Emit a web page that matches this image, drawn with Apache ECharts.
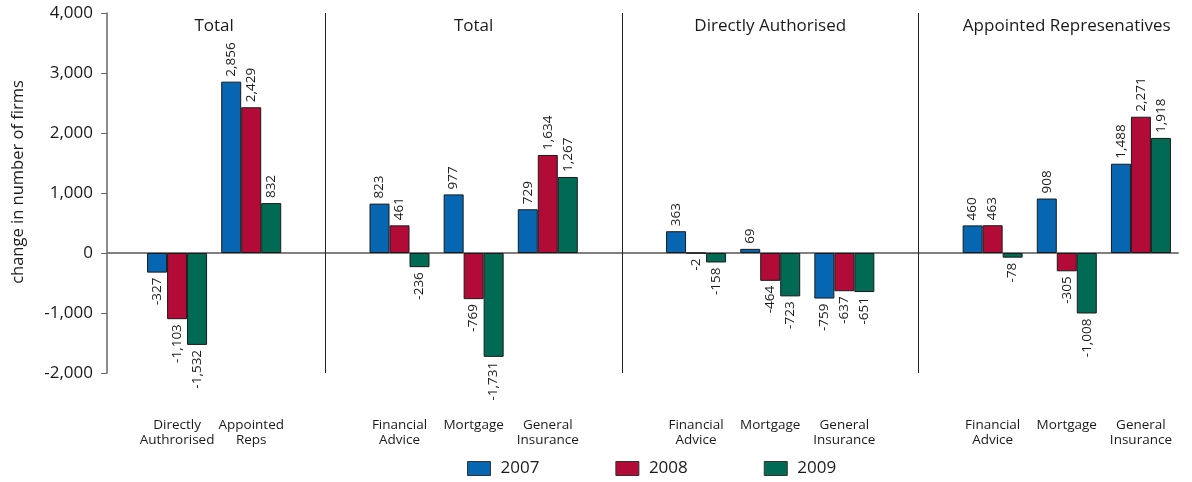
<!DOCTYPE html>
<html>
<head>
<meta charset="utf-8">
<script src="https://cdn.jsdelivr.net/npm/echarts@6/dist/echarts.min.js"></script>
<style>
  * { margin: 0; padding: 0; }
  #mychart { width: 1192px; height: 482px; background: #fff; }
</style>
</head>
<body>
<div id="mychart"></div>
<script>
// blank categories are the gaps between the four panels
const catName = ['Directly\nAuthrorised', 'Appointed\nReps', '',
  'Financial\nAdvice', 'Mortgage', 'General\nInsurance', '',
  'Financial\nAdvice', 'Mortgage', 'General\nInsurance', '',
  'Financial\nAdvice', 'Mortgage', 'General\nInsurance'];
const val2007 = [-327, 2856, null, 823, 977, 729, null, 363, 69, -759, null, 460, 908, 1488];
const val2008 = [-1103, 2429, null, 461, -769, 1634, null, -2, -464, -637, null, 463, -305, 2271];
const val2009 = [-1532, 832, null, -236, -1731, 1267, null, -158, -723, -651, null, -78, -1008, 1918];
const yearNames = ['2007', '2008', '2009'];
const panelTitles = ['Total', 'Total', 'Directly Authorised', 'Appointed Represenatives'];
const gapIndex = [2, 6, 10];
const yTicks = [-2000, 4000, 1000]; // min, max, step

const colors = ['#0766b1', '#b20b37', '#006a55'];
const font = 'Open Sans';
const fmt = v => Number(v).toLocaleString('en-US');

function barData(arr) {
  return arr.map(v => {
    if (v === null) return '-';
    const neg = v < 0;
    return {
      value: v,
      label: { position: neg ? 'bottom' : 'top', align: neg ? 'right' : 'left' }
    };
  });
}

function makeSeries(name, arr, i) {
  const s = {
    name: name,
    type: 'bar',
    barWidth: 20,
    barGap: '0%',
    data: barData(arr),
    itemStyle: { color: colors[i], borderColor: '#1a1a1a', borderWidth: 1 },
    label: {
      show: true,
      rotate: 90,
      verticalAlign: 'middle',
      distance: 5,
      fontFamily: font,
      fontSize: 13.5,
      color: '#1a1a1a',
      formatter: p => fmt(p.value)
    },
    emphasis: { disabled: true }
  };
  // middle bar sits on the category centre, so the panel separators go on it
  if (i === 1) {
    s.markLine = {
      silent: true,
      symbol: 'none',
      label: { show: false },
      lineStyle: { color: '#222', width: 1, type: 'solid' },
      data: gapIndex.map(g => ({ xAxis: g }))
    };
  }
  return s;
}

var chart = echarts.init(document.getElementById('mychart'));
const option = {
  animation: false,
  textStyle: { fontFamily: font },
  grid: { left: 140, right: 14, top: 13, bottom: 109 },
  legend: {
    data: yearNames,
    icon: 'rect',
    left: 467,
    top: 460,
    padding: 0,
    itemWidth: 23,
    itemHeight: 14,
    itemGap: 76,
    itemStyle: { borderColor: '#333', borderWidth: 1 },
    textStyle: { fontFamily: font, fontSize: 17, color: '#1a1a1a', padding: [0, 0, 0, 5] }
  },
  xAxis: [
    {
      type: 'category',
      data: catName,
      axisLine: { onZero: true, lineStyle: { color: '#808080', width: 2 } },
      axisTick: { inside: true, length: 6, lineStyle: { color: '#555' } },
      axisLabel: { show: false }
    },
    {
      type: 'category',
      data: catName,
      position: 'bottom',
      axisLine: { show: false, onZero: false },
      axisTick: { show: false },
      axisLabel: {
        interval: 0,
        margin: 45,
        fontFamily: font,
        fontSize: 13.5,
        lineHeight: 15,
        color: '#1a1a1a'
      }
    }
  ],
  yAxis: {
    type: 'value',
    min: yTicks[0],
    max: yTicks[1],
    interval: yTicks[2],
    offset: 33,
    name: 'change in number of firms',
    nameLocation: 'middle',
    nameGap: 80,
    nameTextStyle: { fontFamily: font, fontSize: 16.5, color: '#1a1a1a', padding: [0, 0, 0, 22] },
    splitLine: { show: false },
    axisLine: { show: true, lineStyle: { color: '#666', width: 1.5 } },
    axisTick: { show: true, length: 6, lineStyle: { color: '#666' } },
    axisLabel: { margin: 14, fontFamily: font, fontSize: 17, color: '#1a1a1a', formatter: fmt }
  },
  series: [
    makeSeries(yearNames[0], val2007, 0),
    makeSeries(yearNames[1], val2008, 1),
    makeSeries(yearNames[2], val2009, 2)
  ]
};
chart.setOption(option);

// panel titles and the short piece of zero line between the y axis and the first category
const px = i => chart.convertToPixel({ xAxisIndex: 0 }, i);
const titleX = [(px(0) + px(1)) / 2, px(4), px(8), px(12)];
const zeroY = chart.convertToPixel({ yAxisIndex: 0 }, 0);
const graphics = panelTitles.map((t, i) => ({
  type: 'text',
  x: titleX[i],
  y: 26,
  style: { text: t, fontFamily: font, fontSize: 17, fill: '#1a1a1a', align: 'center', verticalAlign: 'middle' }
}));
graphics.push({
  type: 'line',
  shape: { x1: 140 - 33, y1: zeroY, x2: 140, y2: zeroY },
  style: { stroke: '#808080', lineWidth: 2 }
});
chart.setOption({ graphic: graphics });
</script>
</body>
</html>
